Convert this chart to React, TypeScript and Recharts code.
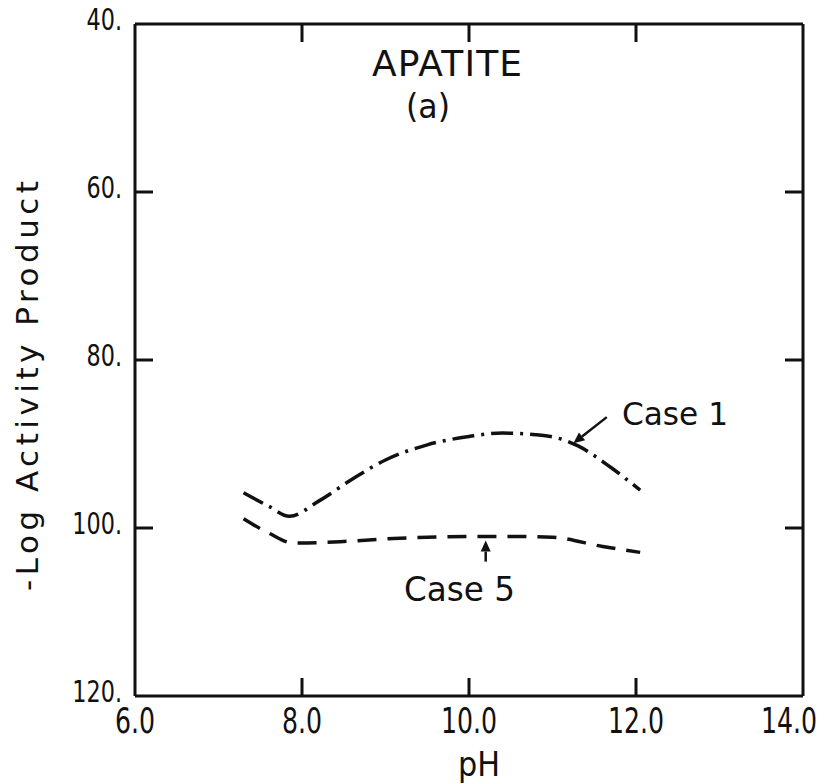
import { LineChart, Line, XAxis, YAxis, ReferenceLine, ReferenceDot } from 'recharts';

// pH values and -log activity product
const case1Ph = [7.3, 7.6, 7.85, 8.2, 8.6, 9.0, 9.5, 10.0, 10.4, 10.8, 11.1, 11.3, 11.7, 12.05];
const case1Value = [95.8, 97.4, 98.6, 96.8, 94.2, 91.9, 90.1, 89.1, 88.7, 88.9, 89.4, 90.2, 92.8, 95.5];

const case5Ph = [7.3, 7.6, 7.9, 8.5, 9.0, 9.5, 10.0, 10.5, 11.0, 11.6, 12.05];
const case5Value = [98.9, 100.6, 101.8, 101.6, 101.3, 101.1, 101.0, 101.0, 101.1, 102.2, 102.9];

const phTicks = [6, 8, 10, 12, 14];
const logTicks = [40, 60, 80, 100, 120];

const case1Data = case1Ph.map((ph, i) => ({ ph, value: case1Value[i] }));
const case5Data = case5Ph.map((ph, i) => ({ ph, value: case5Value[i] }));

const innerPh = phTicks.slice(1, -1);
const innerLog = logTicks.slice(1, -1);

const INK = '#111';
const FONT = "'DejaVu Sans', sans-serif";
const TICK_LEN = 18;
const SQUEEZE = 0.72; // the original lettering is a narrow stencil face

const BottomTick = ({ x, y, payload }: any) => {
  const cx = Math.min(x, 789);
  return (
    <text
      transform={`translate(${cx} ${y + 35}) scale(${SQUEEZE} 1)`}
      textAnchor='middle'
      fontSize={35}
      fontFamily={FONT}
      fill={INK}
    >
      {payload.value.toFixed(1)}
    </text>
  );
};

const LeftTick = ({ x, y, payload }: any) => (
  <text
    transform={`translate(${x - 11} ${y + 6}) scale(${SQUEEZE} 1)`}
    textAnchor='end'
    fontSize={31}
    fontFamily={FONT}
    fill={INK}
  >
    {`${payload.value}.`}
  </text>
);

// inward tick marks of the frame
const tickMark = (dx: number, dy: number) => (p: any) =>
  <line x1={p.cx} y1={p.cy} x2={p.cx + dx} y2={p.cy + dy} stroke={INK} strokeWidth={3} />;

// annotation arrow: line with a filled head at the second point
const Arrow = (props: any) => {
  const { x1, y1, x2, y2 } = props;
  const a = Math.atan2(y2 - y1, x2 - x1);
  const L = 11;
  const W = 5;
  const bx = x2 - L * Math.cos(a);
  const by = y2 - L * Math.sin(a);
  const px = -Math.sin(a) * W;
  const py = Math.cos(a) * W;
  return (
    <g>
      <line x1={x1} y1={y1} x2={bx} y2={by} stroke={INK} strokeWidth={2.5} />
      <polygon points={`${x2},${y2} ${bx + px},${by + py} ${bx - px},${by - py}`} fill={INK} />
    </g>
  );
};

const App = () => {
  return (
    <div style={{ position: 'absolute', left: 0, top: 0, width: 824, height: 784, background: '#fff' }}>
      <LineChart width={824} height={784} margin={{ top: 0, right: 0, bottom: 0, left: 0 }}>
        <XAxis
          xAxisId='bottom'
          type='number'
          dataKey='ph'
          domain={[6, 14]}
          ticks={phTicks}
          interval={0}
          orientation='bottom'
          height={88}
          tickSize={0}
          tickLine={false}
          tick={<BottomTick />}
          axisLine={{ stroke: INK, strokeWidth: 3 }}
        />
        <XAxis
          xAxisId='top'
          type='number'
          domain={[6, 14]}
          orientation='top'
          height={24}
          tick={false}
          tickLine={false}
          axisLine={{ stroke: INK, strokeWidth: 3 }}
        />
        <YAxis
          yAxisId='left'
          type='number'
          domain={[40, 120]}
          ticks={logTicks}
          interval={0}
          reversed
          orientation='left'
          width={135}
          tickSize={0}
          tickLine={false}
          tick={<LeftTick />}
          axisLine={{ stroke: INK, strokeWidth: 3 }}
        />
        <YAxis
          yAxisId='right'
          type='number'
          domain={[40, 120]}
          reversed
          orientation='right'
          width={21}
          tick={false}
          tickLine={false}
          axisLine={{ stroke: INK, strokeWidth: 3 }}
        />
        {innerPh.map((ph) => (
          <ReferenceDot key={`b${ph}`} xAxisId='bottom' yAxisId='left' x={ph} y={120} shape={tickMark(0, -TICK_LEN)} />
        ))}
        {innerPh.map((ph) => (
          <ReferenceDot key={`t${ph}`} xAxisId='bottom' yAxisId='left' x={ph} y={40} shape={tickMark(0, TICK_LEN)} />
        ))}
        {innerLog.map((v) => (
          <ReferenceDot key={`l${v}`} xAxisId='bottom' yAxisId='left' x={6} y={v} shape={tickMark(TICK_LEN, 0)} />
        ))}
        {innerLog.map((v) => (
          <ReferenceDot key={`r${v}`} xAxisId='bottom' yAxisId='left' x={14} y={v} shape={tickMark(-TICK_LEN, 0)} />
        ))}
        <Line
          xAxisId='bottom'
          yAxisId='left'
          data={case1Data}
          dataKey='value'
          type='monotone'
          stroke={INK}
          strokeWidth={3.5}
          strokeDasharray='22 7 3 7'
          dot={false}
          isAnimationActive={false}
        />
        <Line
          xAxisId='bottom'
          yAxisId='left'
          data={case5Data}
          dataKey='value'
          type='monotone'
          stroke={INK}
          strokeWidth={3.5}
          strokeDasharray='19 11'
          dot={false}
          isAnimationActive={false}
        />
        <ReferenceLine
          xAxisId='bottom'
          yAxisId='left'
          segment={[{ x: 11.65, y: 86.8 }, { x: 11.25, y: 89.9 }]}
          shape={<Arrow />}
        />
        <ReferenceLine
          xAxisId='bottom'
          yAxisId='left'
          segment={[{ x: 10.2, y: 104.0 }, { x: 10.2, y: 101.5 }]}
          shape={<Arrow />}
        />
      </LineChart>
      <svg
        width={824}
        height={784}
        style={{ position: 'absolute', left: 0, top: 0, pointerEvents: 'none' }}
        fontFamily={FONT}
        fill={INK}
      >
        <text x={372} y={76} fontSize={36} textLength={150} lengthAdjust='spacing'>APATITE</text>
        <text x={406} y={118} fontSize={33} textLength={44} lengthAdjust='spacingAndGlyphs'>(a)</text>
        <text x={622} y={425} fontSize={32} textLength={106} lengthAdjust='spacingAndGlyphs'>Case 1</text>
        <text x={404} y={601} fontSize={34} textLength={111} lengthAdjust='spacingAndGlyphs'>Case 5</text>
        <text x={458} y={776} fontSize={33} textLength={42} lengthAdjust='spacingAndGlyphs'>pH</text>
        <text
          x={38}
          y={386}
          textAnchor='middle'
          fontSize={31}
          textLength={410}
          lengthAdjust='spacing'
          transform='rotate(-90 38 386)'
        >
          -Log Activity Product
        </text>
      </svg>
    </div>
  );
};

export default App;
